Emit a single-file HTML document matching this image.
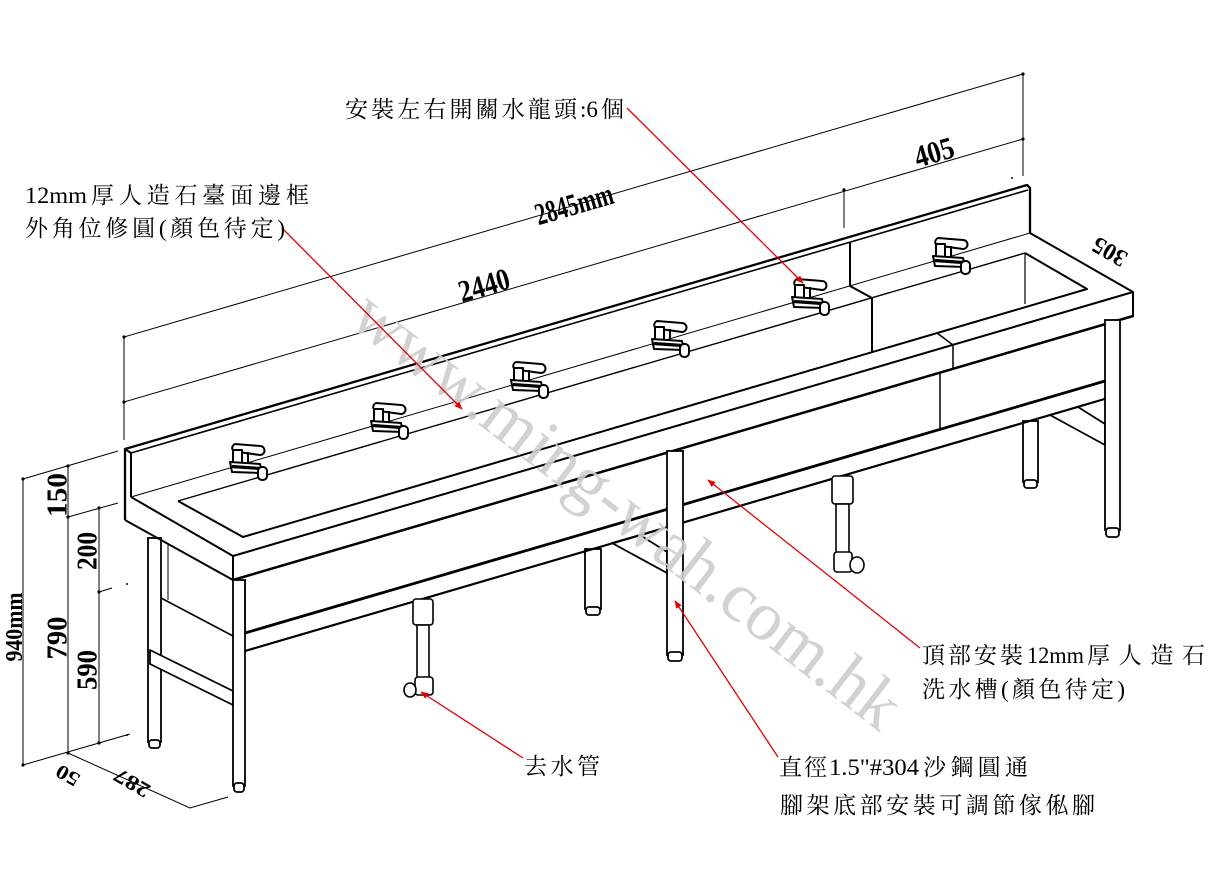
<!DOCTYPE html>
<html><head><meta charset="utf-8"><style>
html,body{margin:0;padding:0;background:#fff;}
svg{display:block;}
.t{font-family:"Liberation Serif","Noto Serif CJK SC",serif;font-size:23px;fill:#000;}
.d{font-family:"Liberation Serif",serif;font-weight:bold;fill:#000;}
</style></head><body>
<svg width="1223" height="890" viewBox="0 0 1223 890" xmlns="http://www.w3.org/2000/svg">
<defs>
<marker id="ar" viewBox="0 0 10 10" refX="9" refY="5" markerWidth="10" markerHeight="8" orient="auto" markerUnits="userSpaceOnUse"><path d="M0,1 L10,5 L0,9 Z" fill="#e60000"/></marker>
<g id="fc" fill="#fff" stroke="#000" stroke-width="2" stroke-linejoin="round">
  <path d="M5,2 L30,4 A4.5,4.5 0 0 1 30,13 L8,10 A4,4 0 0 1 5,2 Z"/>
  <rect x="3" y="8" width="9" height="17"/>
  <line x1="18" y1="10" x2="18" y2="22"/>
  <path d="M0,20 L30,22 L32,31 L2,30 Z"/>
  <path d="M2,24.5 L30,26.5" stroke-width="3.2"/>
  <rect x="28" y="25" width="9" height="13" rx="4"/>
</g>
</defs>

<!-- top dimensions -->
<g stroke="#000" stroke-width="1" fill="none">
  <path d="M124,337 L1023,74 M124,402 L1023,139 M124,337 V440 M1023,74 V176 M844,188 V228"/>
  <path d="M23,479 V765 M68,466 V753 M99,508 V743 M23,479 L118,451 M68,517 L118,503 M99,592 L112,588 M23,765 L130,734 M68,753 L190,808 L228,797"/>
</g>
<g fill="#000">
  <circle cx="124" cy="337" r="1.6"/><circle cx="124" cy="402" r="1.6"/><circle cx="1023" cy="74" r="1.6"/><circle cx="1023" cy="139" r="1.6"/><circle cx="844" cy="190" r="1.6"/>
  <circle cx="23" cy="479" r="1.6"/><circle cx="68" cy="466" r="1.6"/><circle cx="68" cy="517" r="1.6"/><circle cx="99" cy="508" r="1.6"/><circle cx="99" cy="592" r="1.6"/><circle cx="23" cy="765" r="1.6"/><circle cx="68" cy="753" r="1.6"/><circle cx="99" cy="743" r="1.6"/>
  <circle cx="127" cy="584" r="1"/><circle cx="1012" cy="178" r="1"/><circle cx="127" cy="735" r="1"/>
</g>

<!-- back legs -->
<g fill="#fff" stroke="#000" stroke-width="1.8">
  <rect x="148" y="538" width="13" height="204"/>
  <rect x="149" y="740" width="11" height="8" rx="3"/>
  <rect x="585" y="549" width="16" height="60"/>
  <rect x="586" y="607" width="14" height="8" rx="3"/>
  <rect x="1023" y="421" width="15" height="61"/>
  <rect x="1024" y="480" width="13" height="8" rx="3"/>
</g>

<!-- side rails -->
<g fill="#fff" stroke="#000" stroke-width="1.8" stroke-linejoin="round">
  <polygon points="150,650 233,691 233,705 150,664"/>
  <polygon points="612,543 640,535 667,552 667,573"/>
  <polygon points="1050,415 1078,407 1105,424 1105,445"/>
</g>
<g stroke="#000" fill="none" stroke-width="1.6">
  <path d="M161,598 L233,636"/>
  <path d="M168,545 V600" stroke-width="1"/>
</g>

<!-- counter and backsplash -->
<g stroke="#000" fill="none" stroke-linejoin="round">
  <path d="M125,520 V449 L1027,185 L1030,188 V233" stroke-width="2.3"/>
  <path d="M125,449 L131,453 V497" stroke-width="2"/>
  <path d="M131,453 L1028,190" stroke-width="1.6"/>
  <path d="M131,497 L1030,233" stroke-width="1"/>
  <path d="M850,242 V286 L872,298 V352" stroke-width="2"/>
  <path d="M131,497 L233,556 V580 M125,520 L233,580" stroke-width="2"/>
  <path d="M1030,233 L1133,292 V317" stroke-width="2"/>
  <path d="M233,556 L1133,292" stroke-width="2"/>
  <path d="M233,580 L1133,316" stroke-width="2.5"/>
  <path d="M178,501 L1025,253" stroke-width="1.4"/>
  <path d="M178,501 L243,537 L1087,289 L1025,253" stroke-width="2"/>
  <path d="M1025,253 V304" stroke-width="1.2"/>
  <path d="M937,333 L953,345 V369" stroke-width="1.5"/>
  <!-- apron & rail -->
  <path d="M245,580 V633" stroke-width="1.8"/>
  <path d="M245,633 L1105,381" stroke-width="2.8"/>
  <path d="M245,651 L1108,398" stroke-width="2.2"/>
  <path d="M1105,381 L1118,388 L1108,398" stroke-width="1.5"/>
  <path d="M940,373 V429" stroke-width="1.5"/>
</g>

<!-- front legs -->
<g fill="#fff" stroke="#000" stroke-width="1.8">
  <rect x="233" y="580" width="12" height="206"/>
  <rect x="234" y="783" width="10" height="9" rx="3"/>
  <rect x="667" y="451" width="16" height="204"/>
  <rect x="668" y="652" width="14" height="9" rx="3"/>
  <rect x="1105" y="320" width="15" height="210"/>
  <rect x="1106" y="528" width="13" height="9" rx="3"/>
</g>

<!-- drain pipes -->
<g fill="#fff" stroke="#000" stroke-width="1.6">
  <rect x="413" y="599" width="20" height="26" rx="3"/>
  <rect x="417" y="625" width="12" height="54"/>
  <rect x="415" y="677" width="18" height="18" rx="3"/>
  <ellipse cx="410" cy="690" rx="6" ry="7"/>
  <rect x="832" y="476" width="21" height="28" rx="3"/>
  <rect x="836" y="504" width="13" height="50"/>
  <rect x="834" y="552" width="18" height="20" rx="3"/>
  <ellipse cx="857" cy="565" rx="7" ry="8"/>
</g>

<!-- faucets -->
<use href="#fc" x="230" y="442"/>
<use href="#fc" x="371" y="401"/>
<use href="#fc" x="511" y="360"/>
<use href="#fc" x="652" y="319"/>
<use href="#fc" x="792" y="277"/>
<use href="#fc" x="933" y="236"/>

<!-- watermark -->
<text transform="translate(627,510) rotate(37.5)" text-anchor="middle" dominant-baseline="central" font-family="Liberation Serif" font-size="70" fill="#cdcdcd" fill-opacity="0.9" textLength="672" lengthAdjust="spacingAndGlyphs">www.ming-wah.com.hk</text>

<!-- red leaders -->
<g stroke="#e60000" stroke-width="1.3" fill="none" marker-end="url(#ar)">
  <path d="M284,230 L462,409"/>
  <path d="M627,108 L803,283"/>
  <path d="M920,648 L708,480"/>
  <path d="M778,757 L675,601"/>
  <path d="M523,758 L421,692"/>
</g>

<!-- dimension numbers -->
<g class="d" text-anchor="middle" dominant-baseline="central">
  <text transform="translate(574,204) rotate(-16.3)" font-size="31" textLength="80" lengthAdjust="spacingAndGlyphs">2845mm</text>
  <text transform="translate(484,285) rotate(-16.3)" font-size="31" textLength="52" lengthAdjust="spacingAndGlyphs">2440</text>
  <text transform="translate(934,152) rotate(-16.3)" font-size="31" textLength="40" lengthAdjust="spacingAndGlyphs">405</text>
  <text transform="translate(1110,251) rotate(210)" font-size="24" textLength="36" lengthAdjust="spacingAndGlyphs">305</text>
  <text transform="translate(15,627) rotate(-90)" font-size="24" textLength="69" lengthAdjust="spacingAndGlyphs">940mm</text>
  <text transform="translate(58,495) rotate(-90)" font-size="28" textLength="44" lengthAdjust="spacingAndGlyphs">150</text>
  <text transform="translate(58,638) rotate(-90)" font-size="28" textLength="43" lengthAdjust="spacingAndGlyphs">790</text>
  <text transform="translate(88,551) rotate(-90)" font-size="28" textLength="38" lengthAdjust="spacingAndGlyphs">200</text>
  <text transform="translate(88,670) rotate(-90)" font-size="28" textLength="40" lengthAdjust="spacingAndGlyphs">590</text>
  <text transform="translate(68,775) rotate(210)" font-size="20" textLength="24" lengthAdjust="spacingAndGlyphs">50</text>
  <text transform="translate(132,783) rotate(210)" font-size="21" textLength="38" lengthAdjust="spacingAndGlyphs">287</text>
</g>

<!-- labels -->
<text class="t" x="345" y="117" textLength="232" lengthAdjust="spacing">安裝左右開關水龍頭</text>
<text class="t" x="580" y="117">:6</text>
<text class="t" x="601" y="117">個</text>

<text class="t" x="25" y="203" textLength="62" lengthAdjust="spacingAndGlyphs">12mm</text>
<text class="t" x="91" y="203" textLength="218" lengthAdjust="spacing">厚人造石臺面邊框</text>
<text class="t" x="25" y="236" textLength="260" lengthAdjust="spacing">外角位修圓(顏色待定)</text>

<text class="t" x="922" y="663" textLength="101" lengthAdjust="spacing">頂部安裝</text>
<text class="t" x="1027" y="663" textLength="57" lengthAdjust="spacingAndGlyphs">12mm</text>
<text class="t" x="1087" y="663" textLength="118" lengthAdjust="spacing">厚人造石</text>
<text class="t" x="922" y="697" textLength="203" lengthAdjust="spacing">洗水槽(顏色待定)</text>

<text class="t" x="524" y="774" textLength="76" lengthAdjust="spacing">去水管</text>

<text class="t" x="779" y="775" textLength="48" lengthAdjust="spacing">直徑</text>
<text class="t" x="829" y="775" textLength="90" lengthAdjust="spacingAndGlyphs">1.5"#304</text>
<text class="t" x="923" y="775" textLength="105" lengthAdjust="spacing">沙鋼圓通</text>
<text class="t" x="780" y="813" textLength="315" lengthAdjust="spacing">腳架底部安裝可調節傢俬腳</text>
</svg>
</body></html>
